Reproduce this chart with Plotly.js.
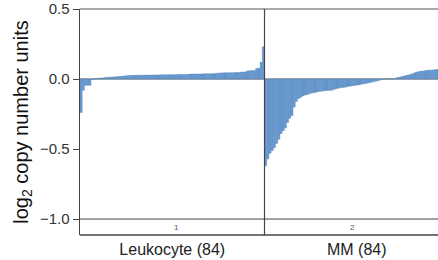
<!DOCTYPE html>
<html>
<head>
<meta charset="utf-8">
<script src="https://cdn.plot.ly/plotly-3.0.1.min.js"></script>
<style>html,body{margin:0;padding:0;overflow:hidden;background:#fff;}#chart{width:452px;height:260px;}</style>
</head>
<body>
<div id="chart"></div>
<script>
// Panel names
const groups = ["Leukocyte (84)", "MM (84)"];
const panelIds = ["1", "2"];
// Sorted per-sample log2 copy-number values (84 per group)
const leukocyte = [-0.24,-0.08,-0.045,-0.045,-0.045,-0.003,0.002,0.004,0.006,0.007,
  0.008,0.01,0.012,0.013,0.014,0.015,0.016,0.018,0.019,0.02,
  0.022,0.024,0.025,0.025,0.026,0.026,0.027,0.027,0.027,0.028,
  0.028,0.028,0.029,0.029,0.029,0.029,0.03,0.03,0.03,0.03,
  0.03,0.031,0.031,0.031,0.032,0.032,0.032,0.033,0.033,0.034,
  0.035,0.035,0.035,0.036,0.036,0.036,0.037,0.037,0.037,0.038,
  0.038,0.039,0.042,0.043,0.043,0.044,0.044,0.045,0.045,0.045,
  0.046,0.046,0.047,0.05,0.05,0.051,0.058,0.059,0.06,0.061,
  0.075,0.076,0.12,0.23];
const mm = [-0.62,-0.57,-0.53,-0.51,-0.49,-0.46,-0.43,-0.39,-0.37,-0.35,
  -0.31,-0.28,-0.26,-0.2,-0.16,-0.14,-0.13,-0.12,-0.115,-0.11,
  -0.105,-0.1,-0.097,-0.094,-0.09,-0.088,-0.085,-0.083,-0.082,-0.081,
  -0.08,-0.075,-0.07,-0.066,-0.063,-0.06,-0.058,-0.055,-0.052,-0.05,
  -0.047,-0.045,-0.043,-0.04,-0.036,-0.033,-0.03,-0.027,-0.023,-0.02,
  -0.016,-0.012,-0.008,-0.002,0,0,0,0,0,0.002,
  0.01,0.013,0.017,0.021,0.025,0.029,0.033,0.037,0.045,0.05,
  0.053,0.056,0.058,0.06,0.062,0.063,0.065,0.066,0.068,0.07,
  0.073,0.078,0.085,0.1];
const yTicks = [-1.0, -0.5, 0.0, 0.5];
const yTickText = ["\u22121.0", "\u22120.5", "0.0", "0.5"];

const idx = a => a.map((_, i) => i);
const barStyle = {color: '#6a9bd0', line: {color: '#4f80ba', width: 0.4}};
const traces = [
  {type: 'bar', x: idx(leukocyte), y: leukocyte, xaxis: 'x', yaxis: 'y', marker: barStyle, hoverinfo: 'y'},
  {type: 'bar', x: idx(mm), y: mm, xaxis: 'x2', yaxis: 'y', marker: barStyle, hoverinfo: 'y'}
];
const xBase = {domain: [0, 0.5], range: [-0.5, 83.5], showticklabels: false, ticks: '', showgrid: false, zeroline: false, showline: false, anchor: 'y',
  title: {text: groups[0], font: {size: 16, color: '#222'}, standoff: 8}};
const layout = {
  width: 452, height: 260,
  margin: {l: 80, r: 3, t: 9, b: 25},
  paper_bgcolor: '#fff', plot_bgcolor: '#fff',
  showlegend: false, bargap: 0,
  font: {family: 'Liberation Sans, Arial, sans-serif', color: '#333'},
  xaxis: xBase,
  xaxis2: Object.assign({}, xBase, {domain: [0.5, 1], title: {text: groups[1], font: {size: 16, color: '#222'}, standoff: 8}}),
  yaxis: {range: [-1.114, 0.5], tickvals: yTicks, ticktext: yTickText, ticks: 'outside', ticklen: 6, tickcolor: '#444', tickwidth: 1,
    showline: true, linecolor: '#444', linewidth: 1.5, showgrid: false, zeroline: false,
    tickfont: {size: 15, color: '#333'},
    title: {text: 'log<sub>2</sub> copy number units', font: {size: 20, color: '#111'}, standoff: 6}},
  shapes: [
    {type: 'line', xref: 'paper', yref: 'y', x0: 0, x1: 1, y0: 0, y1: 0, line: {color: '#aaaaaa', width: 2}, layer: 'below'},
    {type: 'line', xref: 'paper', yref: 'y', x0: 0, x1: 1, y0: -1, y1: -1, line: {color: '#444', width: 1}},
    {type: 'line', xref: 'paper', yref: 'paper', x0: 0, x1: 1, y0: 1, y1: 1, line: {color: '#555', width: 1}},
    {type: 'line', xref: 'paper', yref: 'paper', x0: 0, x1: 1, y0: 0, y1: 0, line: {color: '#444', width: 1.5}},
    {type: 'line', xref: 'paper', yref: 'paper', x0: 0.5, x1: 0.5, y0: 0, y1: 1, line: {color: '#444', width: 1.2}}
  ],
  annotations: panelIds.map((t, i) => ({text: t, xref: 'paper', yref: 'y', x: 0.25 + 0.5 * i, y: -1.057, showarrow: false,
    font: {size: 8, color: '#555'}}))
};
Plotly.newPlot('chart', traces, layout, {displayModeBar: false, staticPlot: true});
</script>
</body>
</html>
